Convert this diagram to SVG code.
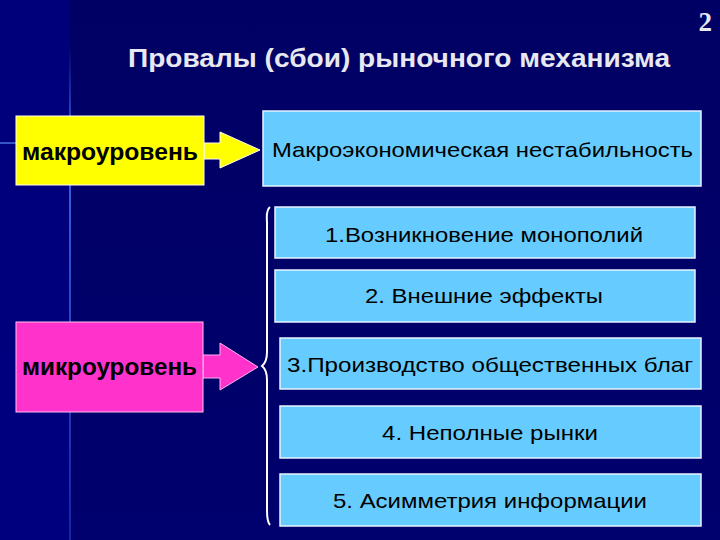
<svg xmlns="http://www.w3.org/2000/svg" width="720" height="540" viewBox="0 0 720 540">
<defs>
<style>
.box{fill:#66ccff;stroke:#e8f4ff;stroke-width:1.5}
.t{font-family:"Liberation Sans",Arial,sans-serif;font-size:21px;fill:#000000;text-anchor:middle}
.lvl{font-family:"Liberation Sans",Arial,sans-serif;font-size:24px;font-weight:bold;fill:#000000}
</style>
<linearGradient id="bg" x1="0" y1="0" x2="0" y2="1">
<stop offset="0" stop-color="#000064"/>
<stop offset="1" stop-color="#00006e"/>
</linearGradient>
<linearGradient id="vline" x1="0" y1="0" x2="0" y2="1">
<stop offset="0" stop-color="#3a6cff" stop-opacity="0"/>
<stop offset="0.2" stop-color="#4a80ff" stop-opacity="0.8"/>
<stop offset="1" stop-color="#2040c0" stop-opacity="0.6"/>
</linearGradient>
</defs>
<rect x="0" y="0" width="720" height="540" fill="url(#bg)"/>
<rect x="0" y="0" width="70" height="540" fill="#00008a" opacity="0.6"/>
<rect x="69" y="45" width="2" height="495" fill="url(#vline)"/>
<line x1="0" y1="143" x2="16" y2="143" stroke="#4a70e0" stroke-width="1.5"/>

<text x="712" y="31" font-family="Liberation Serif,serif" font-weight="bold" font-size="27" fill="#e8e8f0" text-anchor="end">2</text>
<text x="399" y="67" font-family="Liberation Sans,Arial,sans-serif" font-weight="bold" font-size="26" fill="#e8e8f0" text-anchor="middle" textLength="542" lengthAdjust="spacingAndGlyphs">Провалы (сбои) рыночного механизма</text>

<g id="connectors">
<polygon points="204,143 220,143 220,132 260,150 220,168 220,159 204,159" fill="#ffff00" stroke="#fffff0" stroke-width="1"/>
<polygon points="203,355 220,355 220,343 258,367 220,390 220,378 203,378" fill="#ff33cc" stroke="#ffb0ee" stroke-width="1"/>
<path d="M270,207 Q266,210 267,222 L267,352 Q267,362 262,366 Q267,370 267,380 L267,510 Q267,522 270,525" fill="none" stroke="#ffffff" stroke-width="2"/>
</g>

<g id="macro-level">
<rect x="16" y="116" width="188" height="69" fill="#ffff00" stroke="#fffff0" stroke-width="1"/>
<text class="lvl" x="22" y="160" textLength="176" lengthAdjust="spacingAndGlyphs">макроуровень</text>
</g>
<g id="micro-level">
<rect x="16" y="322" width="187" height="90" fill="#ff33cc" stroke="#ffc0f0" stroke-width="1"/>
<text class="lvl" x="22" y="375" textLength="175" lengthAdjust="spacingAndGlyphs">микроуровень</text>
</g>

<g id="macro-instability">
<rect class="box" x="263" y="111" width="438" height="75"/>
<text class="t" x="482.5" y="157" textLength="421" lengthAdjust="spacingAndGlyphs">Макроэкономическая нестабильность</text>
</g>
<g id="item1">
<rect class="box" x="275" y="207" width="420" height="51"/>
<text class="t" x="484" y="242" textLength="318" lengthAdjust="spacingAndGlyphs">1.Возникновение монополий</text>
</g>
<g id="item2">
<rect class="box" x="275" y="270" width="420" height="52"/>
<text class="t" x="484" y="303" textLength="238" lengthAdjust="spacingAndGlyphs">2. Внешние эффекты</text>
</g>
<g id="item3">
<rect class="box" x="280" y="338" width="421" height="51"/>
<text class="t" x="490" y="372" textLength="406" lengthAdjust="spacingAndGlyphs">3.Производство общественных благ</text>
</g>
<g id="item4">
<rect class="box" x="280" y="406" width="421" height="52"/>
<text class="t" x="490" y="440" textLength="216" lengthAdjust="spacingAndGlyphs">4. Неполные рынки</text>
</g>
<g id="item5">
<rect class="box" x="280" y="474" width="421" height="52"/>
<text class="t" x="490" y="508" textLength="314" lengthAdjust="spacingAndGlyphs">5. Асимметрия информации</text>
</g>
</svg>
